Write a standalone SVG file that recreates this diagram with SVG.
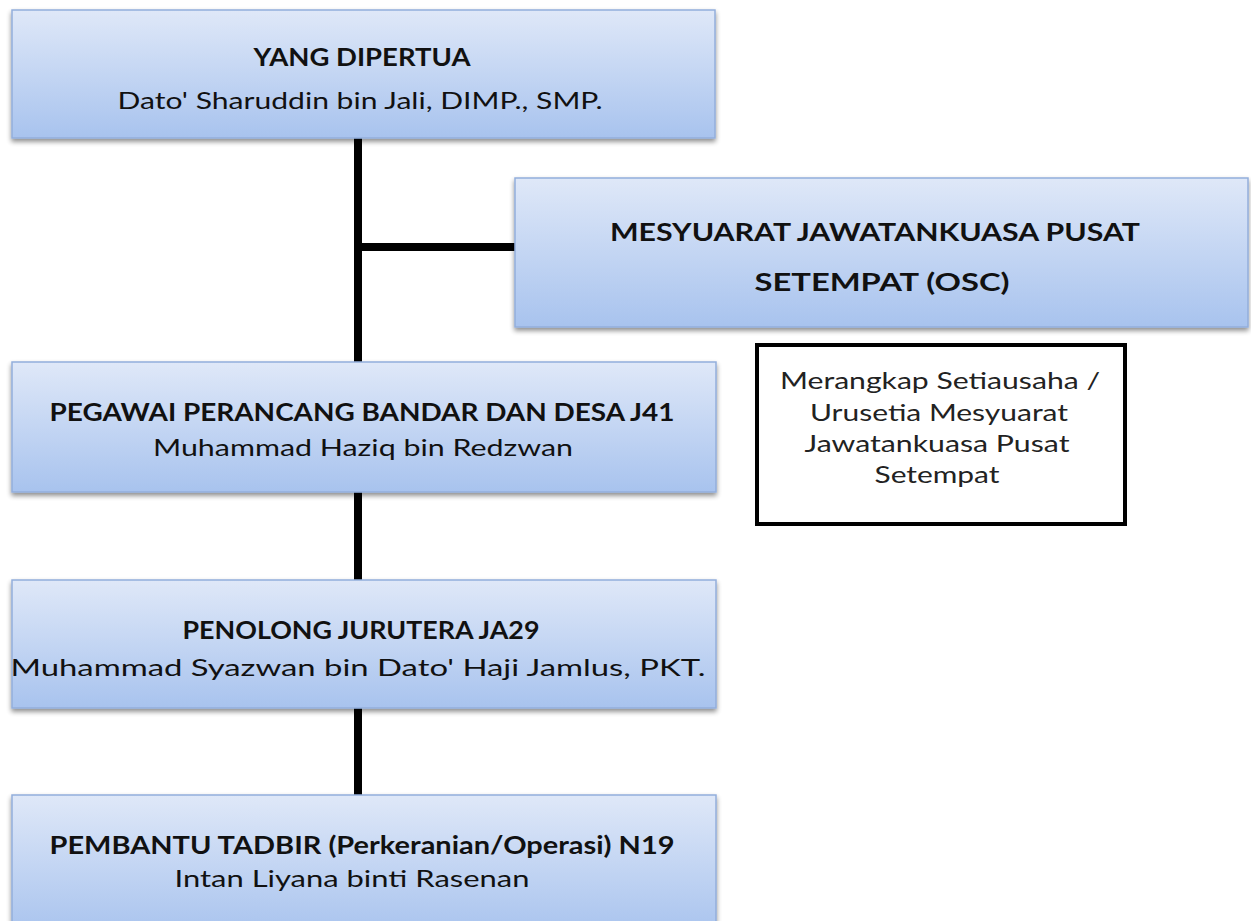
<svg xmlns="http://www.w3.org/2000/svg" width="1251" height="921" viewBox="0 0 1251 921">
<defs>
<linearGradient id="g" x1="0" y1="0" x2="0" y2="1">
<stop offset="0" stop-color="#dfe8f8"/>
<stop offset="1" stop-color="#a8c3ee"/>
</linearGradient>
<filter id="sh" x="-5%" y="-10%" width="110%" height="130%">
<feGaussianBlur in="SourceAlpha" stdDeviation="2.5"/>
<feOffset dx="0" dy="3" result="b"/>
<feComponentTransfer><feFuncA type="linear" slope="0.45"/></feComponentTransfer>
<feMerge><feMergeNode/><feMergeNode in="SourceGraphic"/></feMerge>
</filter>
</defs>
<style>
.box{fill:url(#g);stroke:#93aedb;stroke-width:1.5;filter:url(#sh)}
.t{font-family:Lato,"Liberation Sans",sans-serif;fill:#111;text-anchor:middle}
.b{font-weight:bold;font-size:24px}
.n{font-size:24px}
.w{font-size:23px;fill:#222}
.ln{stroke:#000;stroke-width:8;fill:none}
</style>
<rect width="1251" height="921" fill="#fff"/>
<g id="connectors">
<line class="ln" x1="358" y1="138" x2="358" y2="362"/>
<line class="ln" x1="358" y1="247" x2="516" y2="247"/>
<line class="ln" x1="358" y1="492" x2="358" y2="580"/>
<line class="ln" x1="358" y1="708" x2="358" y2="795"/>
</g>
<g id="n1">
<rect class="box" x="12" y="10" width="703" height="128"/>
<text class="t b" x="362" y="66" textLength="217" lengthAdjust="spacingAndGlyphs">YANG DIPERTUA</text>
<text class="t n" x="360" y="109" textLength="485" lengthAdjust="spacingAndGlyphs">Dato' Sharuddin bin Jali,  DIMP., SMP.</text>
</g>
<g id="n2">
<rect class="box" x="515" y="178" width="733" height="149"/>
<text class="t b" x="875" y="241" font-size="25" textLength="530" lengthAdjust="spacingAndGlyphs">MESYUARAT JAWATANKUASA PUSAT</text>
<text class="t b" x="882" y="291" font-size="25" textLength="255" lengthAdjust="spacingAndGlyphs">SETEMPAT (OSC)</text>
</g>
<g id="n3">
<rect x="757" y="345" width="368" height="179" fill="#fff" stroke="#000" stroke-width="4"/>
<text class="t w" x="940" y="389" textLength="320" lengthAdjust="spacingAndGlyphs">Merangkap Setiausaha /</text>
<text class="t w" x="939" y="421" textLength="258" lengthAdjust="spacingAndGlyphs">Urusetia Mesyuarat</text>
<text class="t w" x="937" y="452" textLength="265" lengthAdjust="spacingAndGlyphs">Jawatankuasa Pusat</text>
<text class="t w" x="937" y="483" textLength="125" lengthAdjust="spacingAndGlyphs">Setempat</text>
</g>
<g id="n4">
<rect class="box" x="12" y="362" width="704" height="130"/>
<text class="t b" x="362" y="421" textLength="625" lengthAdjust="spacingAndGlyphs">PEGAWAI PERANCANG BANDAR DAN  DESA J41</text>
<text class="t n" x="363" y="456" textLength="420" lengthAdjust="spacingAndGlyphs">Muhammad Haziq bin Redzwan</text>
</g>
<g id="n5">
<rect class="box" x="12" y="580" width="704" height="128"/>
<text class="t b" x="361" y="639" textLength="357" lengthAdjust="spacingAndGlyphs">PENOLONG JURUTERA JA29</text>
<text class="t n" x="358" y="676" textLength="695" lengthAdjust="spacingAndGlyphs">Muhammad Syazwan bin Dato' Haji Jamlus, PKT.</text>
</g>
<g id="n6">
<rect class="box" x="12" y="795" width="704" height="140"/>
<text class="t b" x="362" y="854" textLength="625" lengthAdjust="spacingAndGlyphs">PEMBANTU TADBIR (Perkeranian/Operasi) N19</text>
<text class="t n" x="352" y="887" textLength="355" lengthAdjust="spacingAndGlyphs">Intan Liyana binti Rasenan</text>
</g>
</svg>
